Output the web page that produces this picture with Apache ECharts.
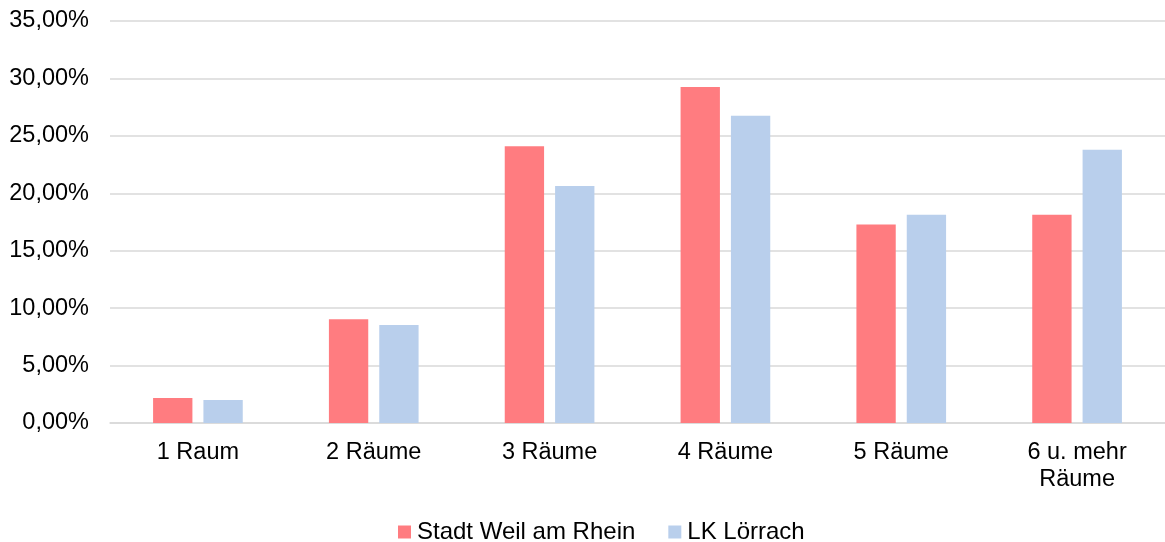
<!DOCTYPE html>
<html>
<head>
<meta charset="utf-8">
<script src="https://cdn.jsdelivr.net/npm/echarts@6/dist/echarts.min.js"></script>
<style>
  html, body { margin: 0; padding: 0; background: #fff; }
  #chart { width: 1165px; height: 542px; }
</style>
</head>
<body>
<div id="chart"></div>
<script>
// Wohnungen nach Anzahl der Räume (Anteile in %)
const categories = ['1 Raum', '2 Räume', '3 Räume', '4 Räume', '5 Räume', '6 u. mehr\nRäume'];
const seriesNames = ['Stadt Weil am Rhein', 'LK Lörrach'];
const weilValues = [2.18, 9.03, 24.09, 29.25, 17.28, 18.14];
const loerrachValues = [2.0, 8.53, 20.63, 26.76, 18.14, 23.8];
const yTicks = { min: 0, max: 35, interval: 5 };

const font = 'Liberation Sans, Arial, sans-serif';
const fontSize = 23.5;
const chart = echarts.init(document.getElementById('chart'), null, { renderer: 'canvas' });

chart.setOption({
  animation: false,
  backgroundColor: '#ffffff',
  textStyle: { fontFamily: font },
  grid: { left: 110, right: -7, top: 21, bottom: 119, containLabel: false },
  legend: {
    data: seriesNames,
    top: 520,
    left: 398,
    padding: 0,
    itemWidth: 13,
    itemHeight: 13,
    itemGap: 33,
    icon: 'rect',
    textStyle: { fontFamily: font, fontSize: 24, color: '#000', padding: [0, 0, 0, 1] }
  },
  xAxis: {
    type: 'category',
    data: categories,
    axisLine: { show: true, lineStyle: { color: '#d9d9d9', width: 1.5 } },
    axisTick: { show: false },
    axisLabel: {
      fontFamily: font, fontSize: fontSize, color: '#000', margin: 16.5, lineHeight: 27, interval: 0
    }
  },
  yAxis: {
    type: 'value',
    min: yTicks.min,
    max: yTicks.max,
    interval: yTicks.interval,
    axisLine: { show: false },
    axisTick: { show: false },
    splitLine: { lineStyle: { color: '#d9d9d9', width: 1.5 } },
    axisLabel: {
      fontFamily: font, fontSize: fontSize, color: '#000', margin: 21,
      formatter: v => v.toFixed(2).replace('.', ',') + '%'
    }
  },
  series: [
    {
      name: seriesNames[0],
      type: 'bar',
      data: weilValues,
      itemStyle: { color: '#ff7c80' },
      barGap: '28%',
      barCategoryGap: '49%'
    },
    {
      name: seriesNames[1],
      type: 'bar',
      data: loerrachValues,
      itemStyle: { color: '#b9cfec' },
      barGap: '28%',
      barCategoryGap: '49%'
    }
  ]
});
</script>
</body>
</html>
